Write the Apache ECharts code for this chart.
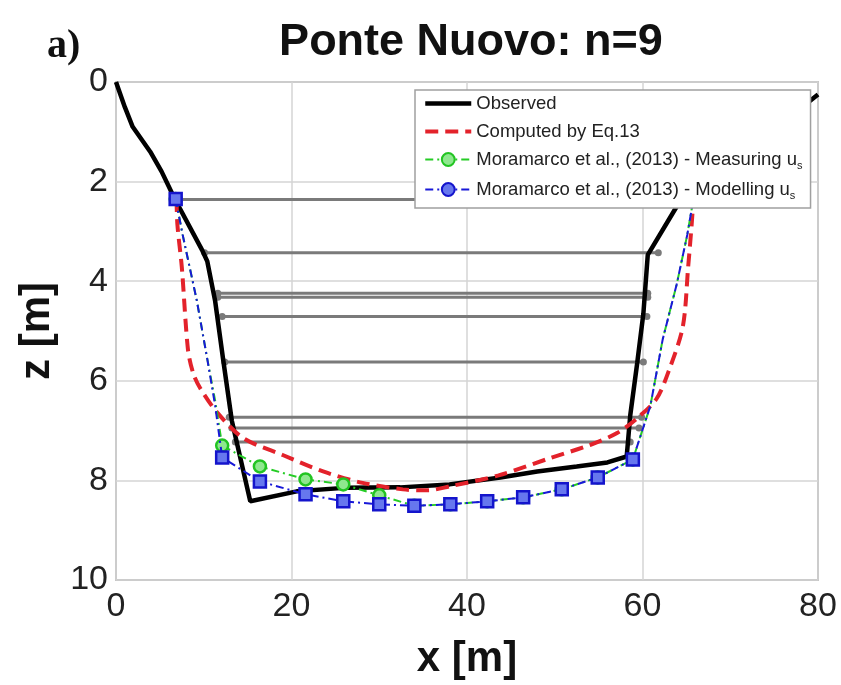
<!DOCTYPE html>
<html>
<head>
<meta charset="utf-8">
<script src="https://cdn.jsdelivr.net/npm/echarts@6/dist/echarts.min.js"></script>
<style>
html,body{margin:0;padding:0;background:#fff;}
#c{width:841px;height:685px;}
</style>
</head>
<body>
<div id="c"></div>
<script>
// ---- data ----
const titleText = 'Ponte Nuovo: n=9';
const panelLabel = 'a)';
const xName = 'x [m]';
const zName = 'z [m]';

const obsX = [0, 1.0, 1.9, 3.9, 5.2, 6.7, 9.8, 10.4, 11.3, 12.2, 13.2, 15.3, 20.6, 26.0, 32.4, 38.0, 43.8, 48.0, 52.5, 56.0, 58.2, 58.6, 59.4, 60.1, 60.6, 63.9, 80.0];
const obsZ = [0, 0.5, 0.9, 1.4, 1.8, 2.35, 3.37, 3.6, 4.4, 5.56, 6.8, 8.42, 8.22, 8.15, 8.14, 8.08, 7.94, 7.82, 7.72, 7.64, 7.52, 6.7, 5.64, 4.65, 3.47, 2.5, 0.25];

const eqX = [6.9, 7.0, 7.5, 8.2, 8.8, 9.6, 11.5, 14.5, 19.0, 23.6, 28.1, 32.7, 35.5, 38.0, 43.6, 49.5, 54.0, 57.1, 59.4, 61.6, 63.1, 64.6, 65.2, 65.6, 65.8];
const eqZ = [2.35, 2.87, 3.72, 5.37, 5.85, 6.15, 6.63, 7.15, 7.49, 7.82, 8.05, 8.18, 8.2, 8.12, 7.9, 7.55, 7.29, 7.05, 6.75, 6.36, 5.75, 4.91, 3.72, 2.87, 2.35];

const moraX = [6.8, 7.6, 9.2, 10.4, 11.3, 12.1, 16.4, 21.6, 25.9, 30.0, 34.0, 38.1, 42.3, 46.4, 50.8, 54.9, 58.9, 60.9, 62.3, 63.9, 65.1, 65.8];
const measZ = [2.35, 3.07, 4.38, 5.56, 6.4, 7.3, 7.72, 7.98, 8.08, 8.3, 8.51, 8.48, 8.42, 8.34, 8.18, 7.94, 7.58, 6.5, 5.17, 4.06, 3.07, 2.35];
const modZ  = [2.35, 3.07, 4.38, 5.56, 6.5, 7.54, 8.02, 8.28, 8.42, 8.48, 8.51, 8.48, 8.42, 8.34, 8.18, 7.94, 7.58, 6.5, 5.17, 4.06, 3.07, 2.35];
const moraMarkerIdx = [0, 5, 6, 7, 8, 9, 10, 11, 12, 13, 14, 15, 16, 21];

// water levels (n=9): level z, left and right end x
const levelZ  = [2.36, 3.43, 4.24, 4.32, 4.71, 5.62, 6.73, 6.95, 7.23];
const levelXL = [6.8, 10.1, 11.6, 11.6, 12.1, 12.4, 12.9, 13.2, 13.6];
const levelXR = [65.5, 61.8, 60.6, 60.6, 60.5, 60.1, 59.9, 59.6, 58.6];

const seriesNames = ['Observed', 'Computed by Eq.13',
  'Moramarco et al., (2013) - Measuring u_s', 'Moramarco et al., (2013) - Modelling u_s'];

const zip = (xs, zs) => xs.map((x, i) => [x, zs[i]]);

const chart = echarts.init(document.getElementById('c'), null, {renderer: 'canvas'});

const levelSeries = levelZ.map((z, i) => ({
  type: 'line', name: 'level' + i,
  data: [[levelXL[i], z], [levelXR[i], z]],
  lineStyle: {color: '#7a7a7a', width: 3},
  itemStyle: {color: '#7a7a7a'},
  symbol: 'circle', symbolSize: 7, showSymbol: true,
  z: 1, silent: true, animation: false
}));

const markerSym = (shape) => (val, params) => moraMarkerIdx.includes(params.dataIndex) ? shape : 'none';

const option = {
  animation: false,
  backgroundColor: '#fff',
  textStyle: {fontFamily: 'Liberation Sans, Arial, sans-serif'},
  title: {
    text: titleText, left: 466, top: 15, textAlign: 'center',
    textStyle: {fontSize: 45, fontWeight: 'bold', color: '#111', fontFamily: 'Liberation Sans, Arial, sans-serif'}
  },
  graphic: [{
    type: 'text', left: 47, top: 27,
    style: {text: panelLabel, font: 'bold 40px "Liberation Serif", "Times New Roman", serif', fill: '#111'}
  }],
  grid: {left: 116, top: 82, width: 702, height: 505, show: true, borderColor: '#9a9a9a', borderWidth: 1.5, backgroundColor: '#fff'},
  xAxis: {
    type: 'value', min: 0, max: 80, interval: 20,
    name: xName, nameLocation: 'middle', nameGap: 58,
    nameTextStyle: {fontSize: 42, fontWeight: 'bold', color: '#111'},
    axisLine: {show: false}, axisTick: {show: false},
    axisLabel: {fontSize: 34, color: '#222', margin: 10},
    splitLine: {show: true, lineStyle: {color: '#d4d4d4', width: 1.5}}
  },
  yAxis: {
    type: 'value', min: 0, max: 10, interval: 2, inverse: true,
    name: zName, nameLocation: 'middle', nameGap: 58, nameRotate: 90,
    nameTextStyle: {fontSize: 42, fontWeight: 'bold', color: '#111'},
    axisLine: {show: false}, axisTick: {show: false},
    axisLabel: {fontSize: 34, color: '#222', margin: 8},
    splitLine: {show: true, lineStyle: {color: '#d4d4d4', width: 1.5}}
  },
  legend: {
    orient: 'vertical', left: 415, top: 90,
    data: [
      {name: seriesNames[0], itemStyle: {opacity: 0}, lineStyle: {width: 4.5}},
      {name: seriesNames[1], itemStyle: {opacity: 0}, lineStyle: {width: 4}},
      {name: seriesNames[2]},
      {name: seriesNames[3]}
    ],
    backgroundColor: '#fff', borderColor: '#a0a0a0', borderWidth: 1.5,
    padding: [4, 8, 7, 8], itemGap: 9, itemWidth: 46, itemHeight: 16,
    textStyle: {fontSize: 18.5, color: '#222',
      rich: {a: {fontSize: 18.5, color: '#222'}, s: {fontSize: 11, color: '#222', padding: [12, 0, 0, 0]}}},
    formatter: (name) => {
      if (name.endsWith('_s')) return '{a|' + name.slice(0, -2) + '}{s|s}';
      return name;
    },
    selectedMode: false, z: 10
  },
  series: levelSeries.concat([
    {
      type: 'line', name: seriesNames[0], data: zip(obsX, obsZ),
      lineStyle: {color: '#000', width: 4.5}, itemStyle: {color: '#000'},
      symbol: 'none', z: 3
    },
    {
      type: 'line', name: seriesNames[1], data: zip(eqX, eqZ), smooth: 0.3,
      lineStyle: {color: '#e3222b', width: 4, type: [13, 7]}, itemStyle: {color: '#e3222b'},
      symbol: 'none', z: 4
    },
    {
      type: 'line', name: seriesNames[2], data: zip(moraX, measZ),
      lineStyle: {color: '#25cc25', width: 2, type: [8, 4, 2, 4]},
      itemStyle: {color: '#8fe88f', borderColor: '#22c422', borderWidth: 2.5},
      symbol: markerSym('circle'), symbolSize: 12, showAllSymbol: true, z: 5
    },
    {
      type: 'line', name: seriesNames[3], data: zip(moraX, modZ),
      lineStyle: {color: '#1818d8', width: 2, type: [8, 4, 2, 4]},
      itemStyle: {color: '#6677ee', borderColor: '#1414cc', borderWidth: 2.5},
      symbol: markerSym('rect'), symbolSize: 12, showAllSymbol: true, z: 6
    }
  ])
};
chart.setOption(option);
</script>
</body>
</html>
